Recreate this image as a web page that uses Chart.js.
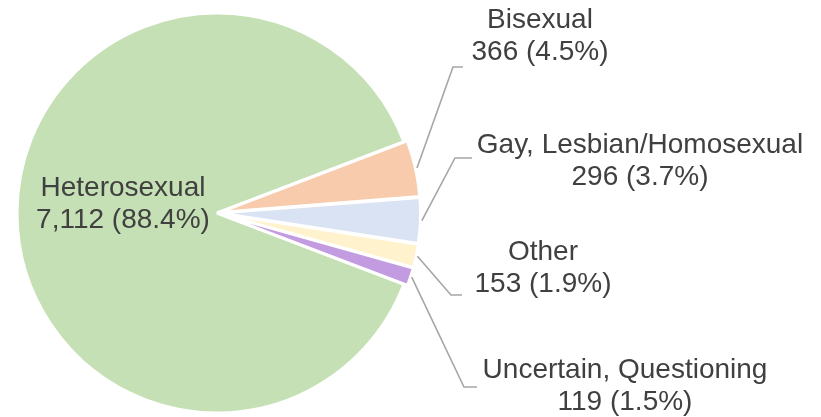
<!DOCTYPE html>
<html>
<head>
<meta charset="utf-8">
<script src="https://cdn.jsdelivr.net/npm/chart.js@4"></script>
<style>
  html, body { margin: 0; padding: 0; background: #fff; }
  #wrap { width: 821px; height: 417px; }
</style>
</head>
<body>
<div id="wrap"><canvas id="pie"></canvas></div>
<script>
// dados do gráfico
const categorias = ['Heterosexual', 'Bisexual', 'Gay, Lesbian/Homosexual', 'Other', 'Uncertain, Questioning'];
const valores = [7112, 366, 296, 153, 119];
const cores = ['#c5e0b4', '#f8cbad', '#dae3f3', '#fff2cc', '#c39be0'];
const destacados = [0, 8, 8, 8, 8]; // deslocamento das fatias pequenas

// posição dos rótulos (centro do texto, linha 1) e cotovelo da linha guia
const rotulos = [
    { x: 123, y: 188, linha: null },
    { x: 540, y: 20,  linha: [[453, 67], [463, 67]] },
    { x: 640, y: 145, linha: [[455, 158], [472, 158]] },
    { x: 543, y: 252, linha: [[451, 295], [462, 295]] },
    { x: 625, y: 370, linha: [[464, 387], [477, 387]] }
];

const total = valores.reduce((a, b) => a + b, 0);

const pluginRotulos = {
    id: 'rotulos',
    afterDatasetsDraw(chart) {
        const ctx = chart.ctx;
        const meta = chart.getDatasetMeta(0);
        ctx.save();
        meta.data.forEach((arc, i) => {
            const r = rotulos[i];
            if (r.linha) {
                const mid = (arc.startAngle + arc.endAngle) / 2;
                const dist = arc.outerRadius + destacados[i] - 3;
                const sx = arc.x + Math.cos(mid) * dist;
                const sy = arc.y + Math.sin(mid) * dist;
                ctx.strokeStyle = '#a6a6a6';
                ctx.lineWidth = 1.6;
                ctx.beginPath();
                ctx.moveTo(sx, sy);
                ctx.lineTo(r.linha[0][0], r.linha[0][1]);
                ctx.lineTo(r.linha[1][0], r.linha[1][1]);
                ctx.stroke();
            }
            const pct = (valores[i] / total * 100).toFixed(1);
            ctx.fillStyle = '#404040';
            ctx.font = '28px "Liberation Sans", Arial, sans-serif';
            ctx.textAlign = 'center';
            ctx.textBaseline = 'middle';
            ctx.fillText(categorias[i], r.x, r.y);
            ctx.fillText(valores[i].toLocaleString('en-US') + ' (' + pct + '%)', r.x, r.y + 32);
        });
        ctx.restore();
    }
};

new Chart(document.getElementById('pie'), {
    type: 'pie',
    data: {
        labels: categorias,
        datasets: [{
            data: valores,
            backgroundColor: cores,
            borderColor: '#ffffff',
            borderWidth: 3,
            offset: destacados
        }]
    },
    options: {
        responsive: true,
        maintainAspectRatio: false,
        animation: false,
        rotation: 110.9,
        radius: 200,
        layout: { padding: { top: 9, bottom: 0, left: 0, right: 387 } },
        plugins: {
            legend: { display: false },
            tooltip: { enabled: false }
        }
    },
    plugins: [pluginRotulos]
});
</script>
</body>
</html>
